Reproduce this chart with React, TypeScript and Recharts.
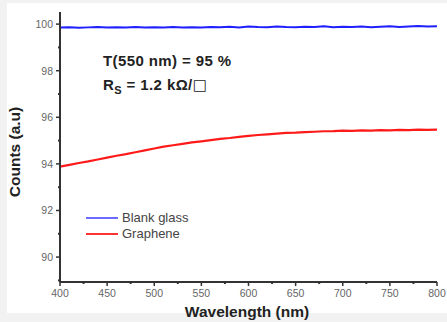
import { LineChart, Line, XAxis, YAxis } from "recharts";

const wavelengths = [
  400, 410, 420, 430, 440, 450, 460, 470, 480, 490, 500, 510, 520, 530, 540,
  550, 560, 570, 580, 590, 600, 610, 620, 630, 640, 650, 660, 670, 680, 690,
  700, 710, 720, 730, 740, 750, 760, 770, 780, 790, 800
];
const blankGlass = [
  99.85, 99.87, 99.84, 99.86, 99.88, 99.85, 99.87, 99.86, 99.88, 99.85, 99.87,
  99.86, 99.88, 99.85, 99.87, 99.86, 99.88, 99.87, 99.89, 99.86, 99.9, 99.88,
  99.87, 99.9, 99.88, 99.87, 99.89, 99.88, 99.91, 99.87, 99.89, 99.88, 99.9,
  99.87, 99.89, 99.91, 99.88, 99.9, 99.92, 99.9, 99.91
];
const graphene = [
  93.88, 93.96, 94.04, 94.11, 94.19, 94.27, 94.35, 94.42, 94.5, 94.58, 94.66,
  94.74, 94.8, 94.86, 94.92, 94.97, 95.02, 95.07, 95.11, 95.16, 95.2, 95.24,
  95.27, 95.3, 95.33, 95.34, 95.36, 95.38, 95.4, 95.41, 95.43, 95.42, 95.44,
  95.43, 95.45, 95.44, 95.46, 95.45, 95.47, 95.46, 95.47
];
const xTicks = [400, 425, 450, 475, 500, 525, 550, 575, 600, 625, 650, 675, 700, 725, 750, 775, 800];
const yTicks = [89, 90, 91, 92, 93, 94, 95, 96, 97, 98, 99, 100];

const data = wavelengths.map((w, i) => ({ w, blank: blankGlass[i], graphene: graphene[i] }));

const tickFont = "'Liberation Sans', Arial, sans-serif";

const XTick = (props: any) => {
  const { x, y, payload } = props;
  const major = payload.value % 50 === 0;
  return (
    <g>
      <line x1={x} x2={x} y1={y - (major ? 0 : 1)} y2={y + (major ? 4 : 2)} stroke="#333" strokeWidth={major ? 1.5 : 2} />
      {major && (
        <text x={x} y={y + 15} textAnchor="middle" fill="#666" fontSize={10.5} fontFamily={tickFont}>
          {payload.value}
        </text>
      )}
    </g>
  );
};

const YTick = (props: any) => {
  const { x, y, payload } = props;
  const major = payload.value % 2 === 0;
  return (
    <g>
      <line x1={x - (major ? 4 : 2)} x2={x + (major ? 0 : 1)} y1={y} y2={y} stroke="#333" strokeWidth={major ? 1.5 : 2} />
      {major && (
        <text x={x - 7} y={y + 4} textAnchor="end" fill="#666" fontSize={10.5} fontFamily={tickFont}>
          {payload.value}
        </text>
      )}
    </g>
  );
};

const title = { fontFamily: tickFont, fontWeight: "bold" as const, fontSize: 15.5, color: "#222", whiteSpace: "nowrap" as const };
const note = { ...title, fontSize: 15, letterSpacing: 0.4 };

export default function App() {
  return (
    <div style={{ position: "fixed", left: 0, top: 0, width: 447, height: 322, background: "#f2f2f2", overflow: "hidden" }}>
      <div style={{ position: "absolute", left: 7, top: 3, width: 440, height: 310, background: "#fff" }} />
      <div style={{ position: "absolute", left: 0, top: 0 }}>
        <LineChart width={447} height={322} data={data} margin={{ top: 12, right: 10, bottom: 10, left: 20 }}>
          <XAxis
            dataKey="w"
            type="number"
            domain={[400, 800]}
            ticks={xTicks}
            interval={0}
            tickSize={0}
            tickMargin={0}
            tickLine={false}
            tick={<XTick />}
            height={30}
            axisLine={{ stroke: "#333", strokeWidth: 2 }}
          />
          <YAxis
            type="number"
            domain={[88.93, 100.52]}
            ticks={yTicks}
            interval={0}
            tickSize={0}
            tickMargin={0}
            tickLine={false}
            tick={<YTick />}
            width={40}
            axisLine={{ stroke: "#333", strokeWidth: 2 }}
          />
          <Line dataKey="blank" stroke="#1f1fff" strokeWidth={2} dot={false} isAnimationActive={false} />
          <Line dataKey="graphene" stroke="#ff1a1a" strokeWidth={2.2} dot={false} isAnimationActive={false} />
        </LineChart>
      </div>
      <div style={{ position: "absolute", left: 86, top: 210, fontFamily: tickFont, fontSize: 13, color: "#444", lineHeight: "16px" }}>
        <div style={{ display: "flex", alignItems: "center" }}>
          <span style={{ width: 32, height: 1.5, background: "#6b6bff", marginRight: 4 }} />
          Blank glass
        </div>
        <div style={{ display: "flex", alignItems: "center" }}>
          <span style={{ width: 32, height: 2.5, background: "#ff3333", marginRight: 4 }} />
          Graphene
        </div>
      </div>
      <div style={{ ...note, position: "absolute", left: 103, top: 52 }}>T(550 nm) = 95 %</div>
      <div style={{ ...note, position: "absolute", left: 103, top: 76 }}>
        R<sub style={{ fontSize: 11 }}>S</sub> = 1.2 kΩ/<span style={{ fontFamily: "'DejaVu Sans'", fontWeight: "normal" }}>□</span>
      </div>
      <div style={{ ...title, position: "absolute", left: 15, top: 152, transform: "translate(-50%, -50%) rotate(-90deg)" }}>
        Counts (a.u)
      </div>
      <div style={{ ...title, position: "absolute", left: 247, top: 312, transform: "translate(-50%, -50%)" }}>
        Wavelength (nm)
      </div>
    </div>
  );
}
